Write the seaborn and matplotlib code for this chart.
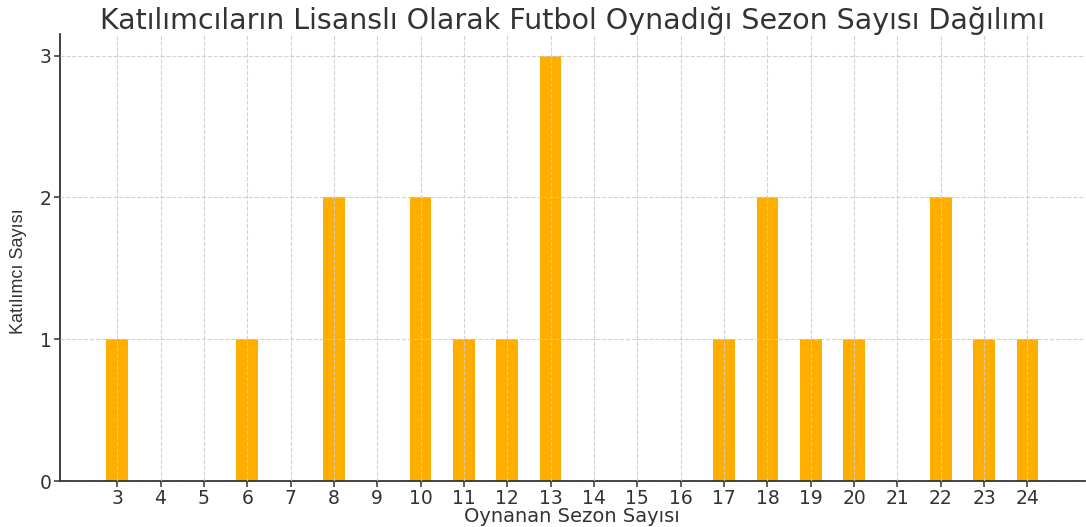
import matplotlib
matplotlib.use("Agg")
import matplotlib.pyplot as plt
import seaborn as sns
import pandas as pd

# seasons played and number of participants
seasons = [3, 6, 8, 10, 11, 12, 13, 17, 18, 19, 20, 22, 23, 24]
counts = [1, 1, 2, 2, 1, 1, 3, 1, 2, 1, 1, 2, 1, 1]
xticks = list(range(3, 25))
yticks = [0, 1, 2, 3]

title = "Katılımcıların Lisanslı Olarak Futbol Oynadığı Sezon Sayısı Dağılımı"
xlabel = "Oynanan Sezon Sayısı"
ylabel = "Katılımcı Sayısı"

df = pd.DataFrame({"season": seasons, "count": counts})

sns.set_style("white")
plt.rcParams["font.family"] = ["DejaVu Sans"]
text_color = "#333333"

fig = plt.figure(figsize=(10.86, 5.27), dpi=100)
ax = fig.add_axes([0.055, 0.087, 0.944, 0.848])

sns.barplot(data=df, x="season", y="count", native_scale=True, width=0.5,
            color="#FFAE00", saturation=1, linewidth=0, ax=ax, zorder=1)

ax.set_xticks(xticks)
ax.set_yticks(yticks)
ax.set_xlim(1.675, 25.325)
ax.set_ylim(0, 3.15)

# dashed grid drawn over the bars, like the original
ax.grid(True, linestyle="--", color="#cccccc", linewidth=0.8, alpha=0.9)
ax.set_axisbelow(False)

for s in ["top", "right"]:
    ax.spines[s].set_visible(False)
for s in ["left", "bottom"]:
    ax.spines[s].set_color(text_color)
    ax.spines[s].set_linewidth(1.3)

ax.tick_params(axis="both", labelsize=13.5, colors=text_color, length=4,
               width=1.1, left=True, bottom=True, pad=2)

ax.set_title(title, fontsize=20.5, color=text_color, pad=4)
ax.set_xlabel(xlabel, fontsize=14, color=text_color, labelpad=-1)
ax.set_ylabel(ylabel, fontsize=13, color=text_color,
              family=["Liberation Sans", "DejaVu Sans"])
ax.yaxis.set_label_coords(-0.032, 0.47)

fig.savefig("out.png", dpi=100)
